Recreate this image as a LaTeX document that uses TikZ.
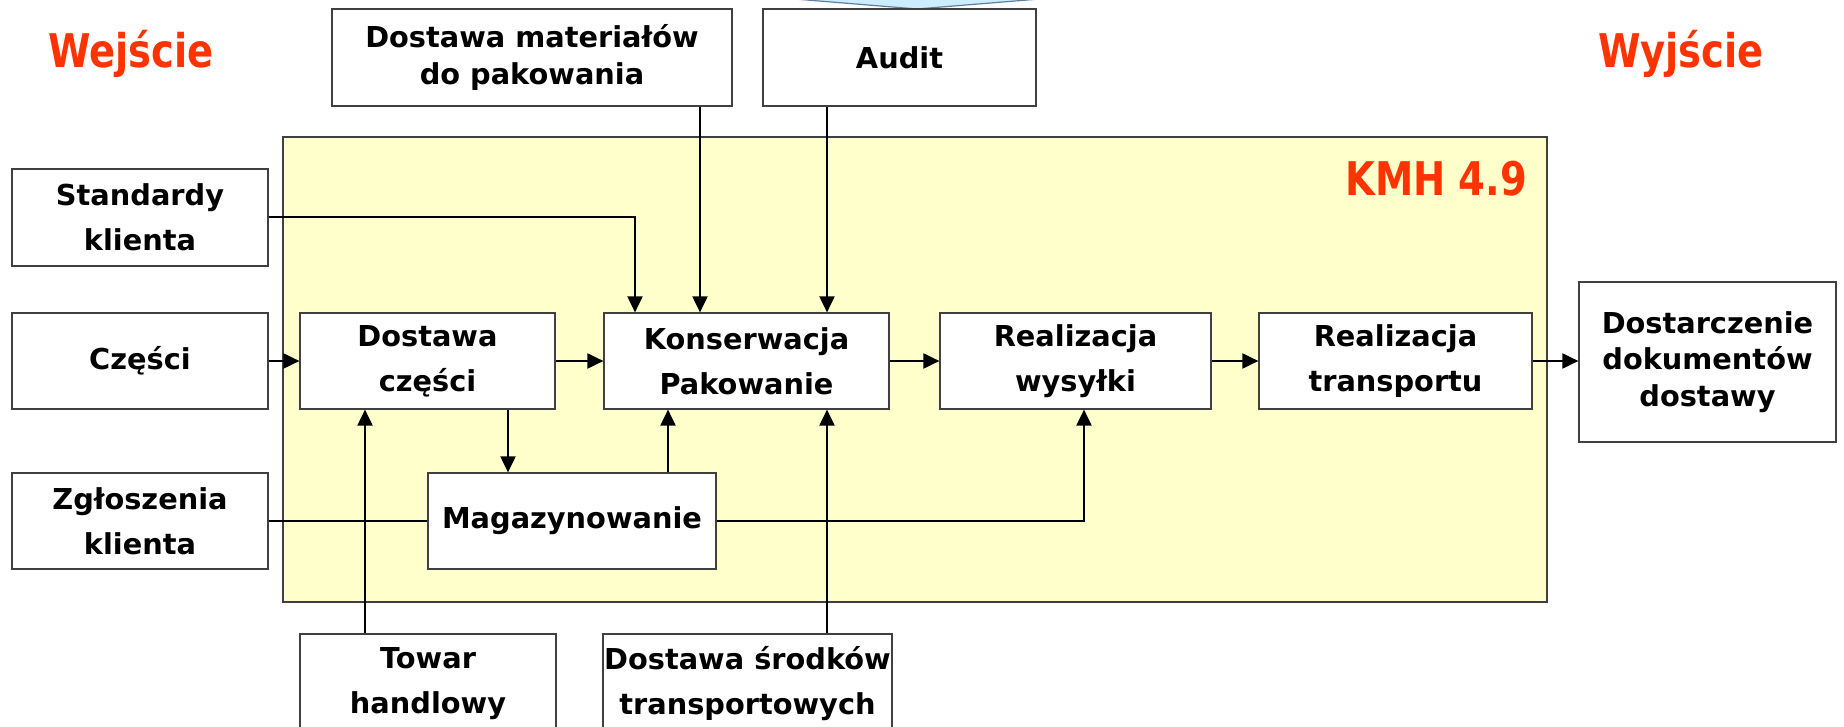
\documentclass[tikz,border=0pt]{standalone}
\usepackage{fontspec}
\setmainfont{DejaVu Sans}
\newfontfamily\redfont{DejaVu Sans}[FakeStretch=0.83]
\usetikzlibrary{arrows.meta,positioning,calc}
\definecolor{kmhred}{HTML}{FF3300}
\definecolor{kmhyellow}{HTML}{FFFFCC}
\definecolor{boxgray}{HTML}{404040}
\definecolor{chevblue}{HTML}{CCECFF}
\definecolor{chevline}{HTML}{5F7F9F}
\tikzset{
  box/.style={draw=boxgray, line width=0.6pt, fill=white, align=center, inner sep=2pt,
    font=\bfseries\fontsize{14.4}{22.5}\selectfont},
  tight/.style={font=\bfseries\fontsize{14.4}{18.2}\selectfont},
  head/.style={text=kmhred, inner sep=0pt, font=\redfont\bfseries\fontsize{23.2}{27}\selectfont},
  link/.style={line width=1pt},
  arr/.style={link, -{Triangle[length=8pt,width=7.5pt]}}
}
\begin{document}
\begin{tikzpicture}[x=0.5pt,y=-0.5pt]
\clip (0,0) rectangle (1844,727);
\fill[white] (0,0) rectangle (1844,727);
\filldraw[draw=chevline, fill=chevblue, line width=0.6pt] (770,-3) -- (917,9) -- (1064,-3) -- cycle;

\node[draw=boxgray, fill=kmhyellow, line width=0.6pt, minimum width=632pt, minimum height=232.5pt] (kmh) at (915,369.5) {};
\node[head, anchor=base east] (kmhlabel) at ($(kmh.north east)+(-20,59)$) {KMH 4.9};
\node[head, anchor=base] (wej) at (131,68) {Wejście};
\node[head, anchor=base] (wyj) at (1681,68) {Wyjście};

\node[box, tight, minimum width=200pt, minimum height=48.5pt] (mat) at (532,57.5) {Dostawa materiałów\\do pakowania};
\node[box, minimum width=136.5pt, minimum height=48.5pt] (audit) at (899.5,57.5) {Audit};
\node[box, minimum width=128pt, minimum height=48.5pt] (std) at (140,217.5) {Standardy\\klienta};
\node[box, minimum width=128pt, minimum height=48pt] (czesci) at (140,361) {Części};
\node[box, minimum width=128pt, minimum height=48pt] (zgl) at (140,521) {Zgłoszenia\\klienta};
\node[box, minimum width=127.5pt, minimum height=48pt] (dcz) at (427.5,361) {Dostawa\\części};
\node[box, minimum width=142.5pt, minimum height=48pt] (kons) at (746.5,361) {Konserwacja\\Pakowanie};
\node[box, minimum width=135.5pt, minimum height=48pt] (rwys) at (1075.5,361) {Realizacja\\wysyłki};
\node[box, minimum width=136.5pt, minimum height=48pt] (rtr) at (1395.5,361) {Realizacja\\transportu};
\node[box, tight, minimum width=128.5pt, minimum height=80pt] (dost) at (1707.5,362) {Dostarczenie\\dokumentów\\dostawy};
\node[box, minimum width=144pt, minimum height=48pt] (mag) at (572,521) {Magazynowanie};
\node[box, minimum width=128pt, minimum height=50pt] (tow) at (428,684) {Towar\\handlowy};
\node[box, inner xsep=0.5pt, minimum width=144.5pt, minimum height=50pt] (srod) at (747.5,684) {Dostawa środków\\transportowych};

\coordinate (c1) at (635,0);
\coordinate (c2) at (700,0);
\coordinate (c3) at (827,0);
\coordinate (c4) at (365,0);
\coordinate (c5) at (508,0);
\coordinate (c6) at (668,0);
\coordinate (c7) at (1084,0);

\draw[arr] (std.east) -| (kons.north -| c1);
\draw[arr] (mat.south -| c2) -- (kons.north -| c2);
\draw[arr] (audit.south -| c3) -- (kons.north -| c3);
\draw[arr] (czesci.east) -- (dcz.west);
\draw[arr] (dcz.east) -- (kons.west);
\draw[arr] (kons.east) -- (rwys.west);
\draw[arr] (rwys.east) -- (rtr.west);
\draw[arr] (rtr.east) -- (rtr.east -| dost.west);
\draw[arr] (dcz.south -| c5) -- (mag.north -| c5);
\draw[arr] (mag.north -| c6) -- (kons.south -| c6);
\draw[link] (zgl.east) -- (mag.west);
\draw[arr] (mag.east) -| (rwys.south -| c7);
\draw[arr] (tow.north -| c4) -- (dcz.south -| c4);
\draw[arr] (srod.north -| c3) -- (kons.south -| c3);
\end{tikzpicture}
\end{document}
